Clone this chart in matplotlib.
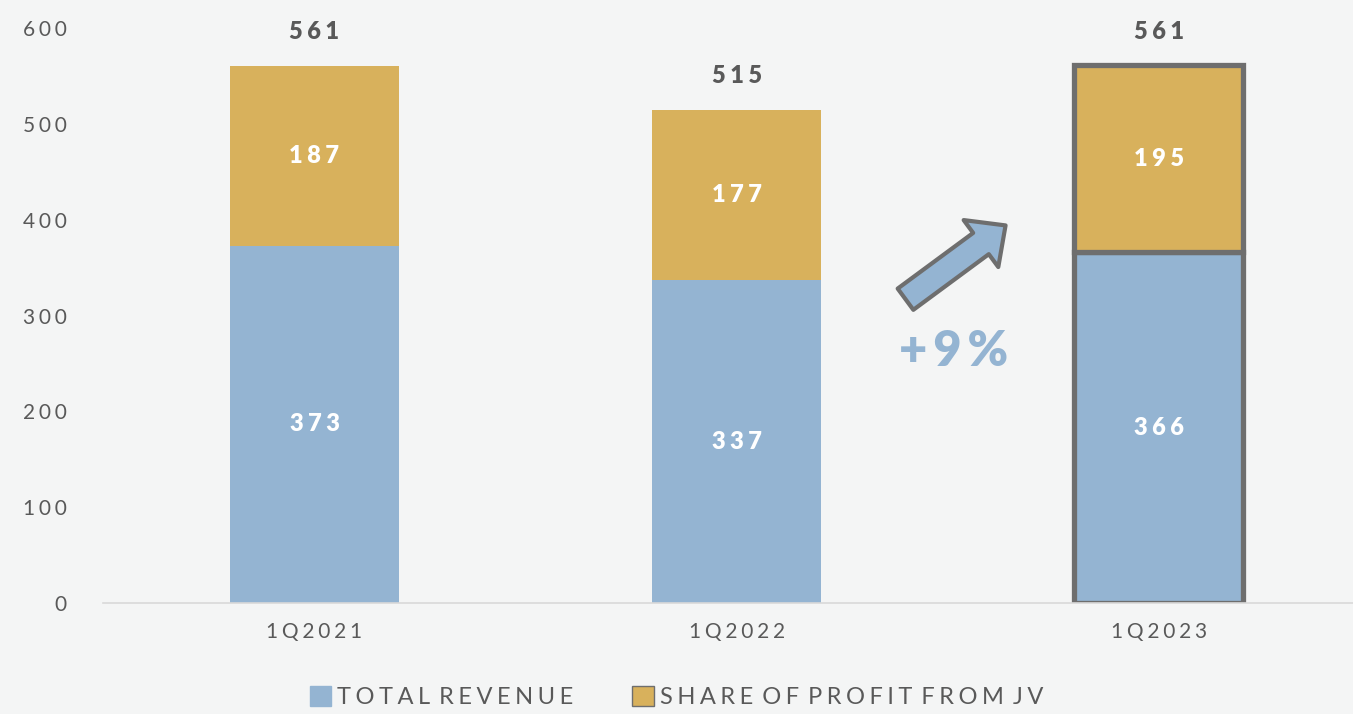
import matplotlib
matplotlib.use("Agg")
import matplotlib.pyplot as plt
from matplotlib.patches import FancyArrowPatch, Patch

categories = ["1Q2021", "1Q2022", "1Q2023"]
revenue = [373, 337, 366]
jv_share = [187, 177, 195]
totals = [561, 515, 561]
yticks = [0, 100, 200, 300, 400, 500, 600]
growth_label = "+9%"
legend_labels = ["TOTAL REVENUE", "SHARE OF PROFIT FROM JV"]

BLUE = "#94B4D2"
GOLD = "#D8B15C"
DARK = "#595959"
EDGE = "#6E6E6E"
BG = "#F4F5F5"
FAM = ["Lato", "DejaVu Sans"]
HS = "\u200a"

def spaced(s, n=1, gap=1):
    words = s.split(" ")
    return (HS * gap + " " + HS * gap).join((HS * n).join(list(wd)) for wd in words)

fig = plt.figure(figsize=(13.53, 7.14), dpi=100, facecolor=BG)
ax = fig.add_axes([103/1353, 1 - 603/714, 1 - 103/1353, (603 - 28)/714])
ax.set_facecolor(BG)

x = list(range(len(categories)))
w = 0.40
b1 = ax.bar(x, revenue, w, color=BLUE, zorder=2)
b2 = ax.bar(x, jv_share, w, bottom=revenue, color=GOLD, zorder=2)
# highlight outline on last bar
for bars in (b1, b2):
    bars[-1].set_edgecolor(EDGE)
    bars[-1].set_linewidth(3.8)

lab_kw = dict(ha="center", va="center", fontsize=17, fontweight="heavy", family=FAM)
for i in x:
    ax.text(i, revenue[i] / 2, spaced(str(revenue[i]), 3), color="white", **lab_kw)
    ax.text(i, revenue[i] + jv_share[i] / 2, spaced(str(jv_share[i]), 3), color="white", **lab_kw)
    ax.annotate(spaced(str(totals[i]), 3), (i, totals[i]), xytext=(0, 24), textcoords="offset points",
                color=DARK, annotation_clip=False, **lab_kw)

ax.set_xlim(-0.501, 2.46)
ax.set_ylim(0, 600)
ax.set_yticks(yticks)
ax.set_yticklabels([spaced(str(t), 3) for t in yticks], family=FAM, fontsize=15, color=DARK)
ax.set_xticks(x)
ax.set_xticklabels([spaced(c, 3) for c in categories], family=FAM, fontsize=15, color=DARK)
ax.tick_params(axis="y", length=0, pad=26)
ax.tick_params(axis="x", length=0, pad=14)
for s in ["top", "right", "left"]:
    ax.spines[s].set_visible(False)
ax.spines["bottom"].set_color("#D9D9D9")
ax.spines["bottom"].set_linewidth(1.2)

arrow = FancyArrowPatch((1.40, 317), (1.637, 394), arrowstyle="simple,head_length=22,head_width=42,tail_width=19",
                        mutation_scale=1, facecolor=BLUE, edgecolor=EDGE, linewidth=3, zorder=3,
                        shrinkA=0, shrinkB=0)
ax.add_patch(arrow)
ax.text(1.513, 262, spaced(growth_label, 2), ha="center", va="center", color=BLUE,
        fontsize=35, fontweight="heavy", family=FAM)

handles = [Patch(facecolor=BLUE, edgecolor=BLUE), Patch(facecolor=GOLD, edgecolor=EDGE, linewidth=1)]
labels = [spaced(t, 3, 1) for t in legend_labels]
leg = fig.legend(handles, labels, loc="center", bbox_to_anchor=(0.5, 1 - 697/714), ncol=2,
                 frameon=False, handlelength=0.9, handleheight=0.9, handletextpad=0.25,
                 columnspacing=2.5, prop={"family": FAM, "size": 17})
for t in leg.get_texts():
    t.set_color(DARK)

fig.savefig("out.png", dpi=100, facecolor=BG)
